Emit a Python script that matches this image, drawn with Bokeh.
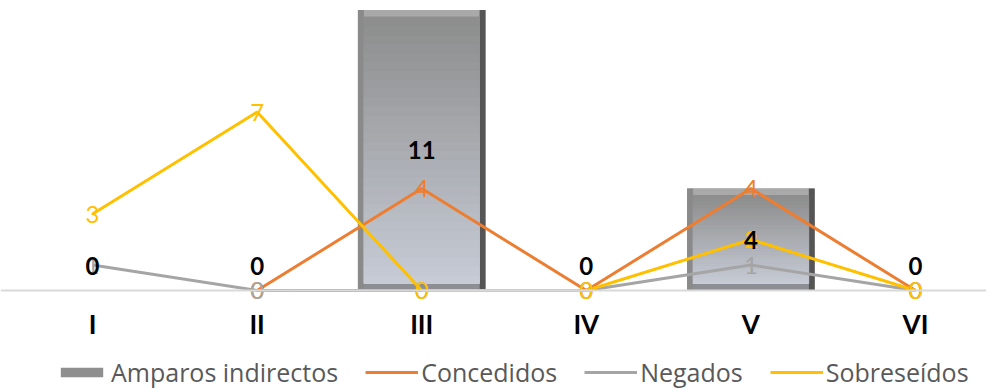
import numpy as np
from bokeh.plotting import figure
from bokeh.models import Range1d, FixedTicker, Legend, LegendItem, ColumnDataSource
from bokeh.core.properties import value
from bokeh.embed import file_html
from bokeh.resources import INLINE

# ---- data ----
categories = ["I", "II", "III", "IV", "V", "VI"]
amparos = [0, 0, 11, 0, 4, 0]
concedidos = [np.nan, 0, 4, 0, 4, 0]
negados = [1, 0, 0, 0, 1, 0]
sobreseidos = [3, 7, 0, 0, 2, 0]

# ---- style ----
ORANGE = "#ED7D31"
GRAY = "#A5A5A5"
YELLOW = "#FFC000"
BAR_W = 0.775
PX_X = 164.6   # pixels per category
PX_Y = 25.5    # pixels per unit
FW, FH = 986, 389
BASE = 290     # pixel row of the value axis zero

xs = list(range(len(categories)))

p = figure(frame_width=FW, frame_height=FH, output_backend="svg", toolbar_location=None,
           x_range=Range1d(-92 / PX_X, (FW - 92) / PX_X),
           y_range=Range1d(-(FH - BASE) / PX_Y, BASE / PX_Y),
           min_border_left=0, min_border_right=0, min_border_top=0, min_border_bottom=0)
p.outline_line_color = None
p.xgrid.visible = False
p.ygrid.visible = False
p.yaxis.visible = False
p.background_fill_color = "white"
p.border_fill_color = "white"

ax = p.xaxis[0]
ax.fixed_location = 0
ax.ticker = FixedTicker(ticks=xs)
ax.major_label_overrides = {i: c for i, c in zip(xs, categories)}
ax.major_tick_line_color = None
ax.minor_tick_line_color = None
ax.major_tick_out = 0
ax.major_tick_in = 0
ax.minor_tick_out = 0
ax.axis_line_color = "#d9d9d9"
ax.axis_line_width = 2
ax.major_label_text_font = "Lato"
ax.major_label_text_font_style = "bold"
ax.major_label_text_font_size = "26px"
ax.major_label_text_color = "black"
ax.major_label_standoff = 17

# ---- bars with bevel/gradient look ----
ex = 6 / PX_X
ey = 7 / PX_Y
src_bar = ColumnDataSource(dict(x=xs, top=amparos))
bar_r = p.vbar(x="x", top="top", width=BAR_W, source=src_bar,
               fill_color="#8f8f8f", line_color=None)

edges = dict(left=[], right=[], bottom=[], top=[], color=[])
strips = dict(left=[], right=[], bottom=[], top=[], color=[])
c_top = np.array([0x8e, 0x8e, 0x8e])
c_bot = np.array([0xc6, 0xcb, 0xd5])
n = 30


def add(d, l, r, b, t, c):
    d["left"].append(l); d["right"].append(r); d["bottom"].append(b); d["top"].append(t); d["color"].append(c)


for x, v in zip(xs, amparos):
    if v <= 0:
        continue
    L, R = x - BAR_W / 2, x + BAR_W / 2
    add(edges, R - ex, R, 0, v, "#555555")            # right dark edge
    add(edges, L, L + ex, 0, v, "#8a8a8a")            # left edge
    add(edges, L + ex, R - ex, v - ey, v, "#a9a9a9")  # top light band
    add(edges, L + ex, R - ex, 0, ey, "#8c8e93")      # bottom band
    hs = np.linspace(ey, v - ey, n + 1)
    for k in range(n):
        f = k / (n - 1)
        col = (c_bot * (1 - f) + c_top * f).astype(int)
        add(strips, L + ex, R - ex, hs[k], hs[k + 1], "#%02x%02x%02x" % tuple(col))

p.quad(left="left", right="right", bottom="bottom", top="top", fill_color="color",
       line_color=None, source=ColumnDataSource(edges))
p.quad(left="left", right="right", bottom="bottom", top="top", fill_color="color",
       line_color="color", line_width=1, source=ColumnDataSource(strips))

# ---- lines ----
r_con = p.line(xs, concedidos, line_color=ORANGE, line_width=3)
r_neg = p.line(xs, negados, line_color=GRAY, line_width=3)
r_sob = p.line(xs, sobreseidos, line_color=YELLOW, line_width=3)


# ---- data labels ----
def labels(vals, color, ycalc, offs, bold=False):
    data = dict(x=[], y=[], t=[], o=[])
    for x, v in zip(xs, vals):
        if v is None or (isinstance(v, float) and np.isnan(v)):
            continue
        data["x"].append(x); data["y"].append(ycalc(v)); data["t"].append(str(int(v)))
        data["o"].append(offs(v))
    p.text(x="x", y="y", text="t", y_offset="o", source=ColumnDataSource(data),
           text_align="center", text_baseline="middle", text_color=color,
           text_font=value("Lato"), text_font_size="24px",
           text_font_style="bold" if bold else "normal")


labels(concedidos, ORANGE, lambda v: v, lambda v: 0)
labels(negados, GRAY, lambda v: v, lambda v: 0)
labels(sobreseidos, YELLOW, lambda v: v, lambda v: 0)
labels(amparos, "black", lambda v: v / 2, lambda v: -25 if v == 0 else 0, bold=True)

# ---- legend ----
legend = Legend(items=[
    LegendItem(label="Amparos indirectos", renderers=[bar_r]),
    LegendItem(label="Concedidos", renderers=[r_con]),
    LegendItem(label="Negados", renderers=[r_neg]),
    LegendItem(label="Sobreseídos", renderers=[r_sob]),
], orientation="horizontal", location=(55, 0))
legend.label_text_font = "Open Sans"
legend.label_text_font_size = "25px"
legend.label_text_color = "#595959"
legend.glyph_width = 53
legend.glyph_height = 12
legend.label_standoff = 3
legend.spacing = 27
legend.padding = 0
legend.margin = 0
legend.border_line_color = None
legend.background_fill_alpha = 0
legend.label_height = 30
p.add_layout(legend, "center")

open("out.html", "w").write(file_html(p, INLINE))
